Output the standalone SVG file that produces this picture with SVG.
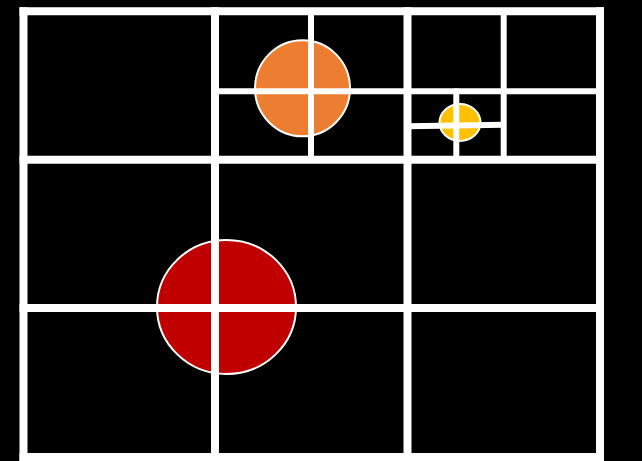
<svg xmlns="http://www.w3.org/2000/svg" width="642" height="461" viewBox="0 0 642 461">
  <style>
    .thick { stroke: #ffffff; stroke-width: 8; fill: none; }
    .thin { stroke: #ffffff; stroke-width: 6; fill: none; }
    .dot { stroke: #ffffff; stroke-width: 2; }
  </style>
  <rect x="0" y="0" width="642" height="461" fill="#000000"/>
  <g id="circles">
    <ellipse id="red" class="dot" cx="226.5" cy="307" rx="69.5" ry="67" fill="#C00000"/>
    <ellipse id="orange" class="dot" cx="302.5" cy="88.3" rx="47.5" ry="48" fill="#ED7D31"/>
    <ellipse id="yellow" class="dot" cx="460" cy="122.5" rx="20.5" ry="18.5" fill="#FFC000"/>
  </g>
  <g id="grid">
    <line class="thick" x1="19.5" y1="11.3" x2="604" y2="11.3"/>
    <line class="thick" x1="19.5" y1="457" x2="604" y2="457"/>
    <line class="thick" x1="23.5" y1="7.3" x2="23.5" y2="461"/>
    <line class="thick" x1="600" y1="7.3" x2="600" y2="461"/>
    <line class="thick" x1="215" y1="7.3" x2="215" y2="461"/>
    <line class="thick" x1="407.5" y1="7.3" x2="407.5" y2="461"/>
    <line class="thick" x1="19.5" y1="159.7" x2="604" y2="159.7"/>
    <line class="thick" x1="19.5" y1="308" x2="604" y2="308"/>
    <line class="thin" x1="215" y1="91.3" x2="600" y2="91.3"/>
    <line class="thin" x1="311" y1="11.3" x2="311" y2="159.7"/>
    <line class="thin" x1="503.7" y1="11.3" x2="503.7" y2="159.7"/>
    <line class="thin" x1="456.3" y1="88.5" x2="456.3" y2="159.7"/>
    <line class="thin" x1="407.5" y1="126.2" x2="503.7" y2="124.8"/>
  </g>
</svg>
